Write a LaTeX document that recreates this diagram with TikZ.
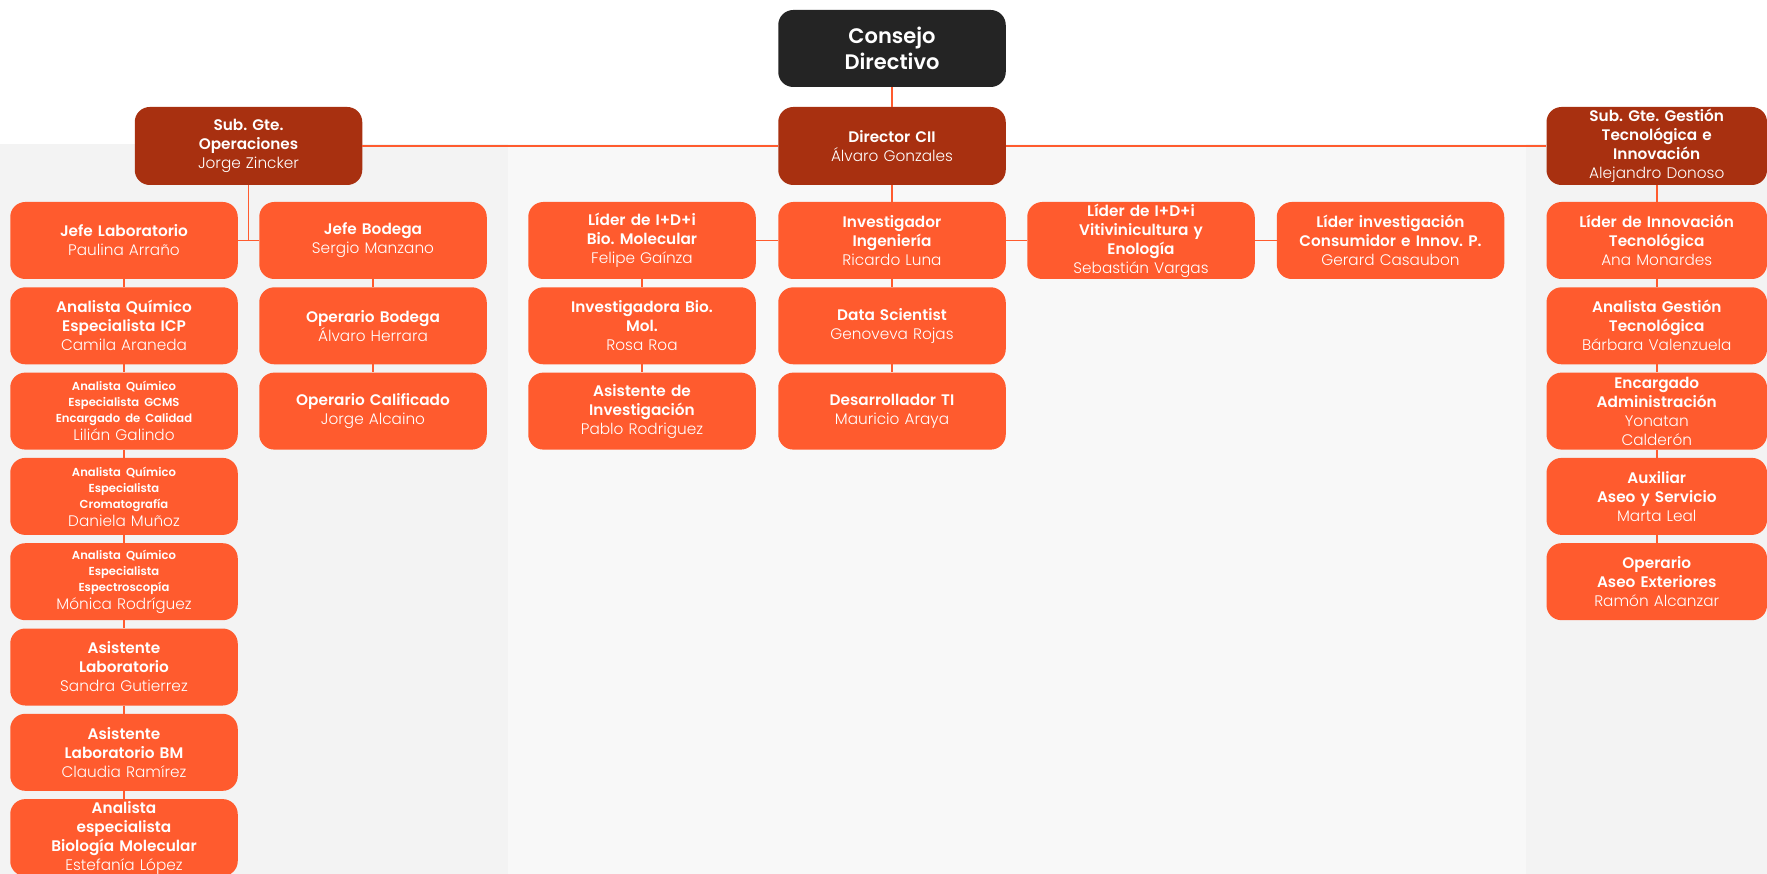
\documentclass[tikz,border=0pt]{standalone}
\usepackage{fontspec}
\setmainfont{Poppins Light}[BoldFont={Poppins SemiBold}]
\frenchspacing
\definecolor{org}{HTML}{FF5B2E}
\definecolor{rust}{HTML}{A83010}
\definecolor{blk}{HTML}{242424}
\definecolor{pnlA}{HTML}{F3F3F3}
\definecolor{pnlB}{HTML}{F8F8F8}
\definecolor{lin}{HTML}{FF5B2E}
\tikzset{
 bx/.style={rounded corners=15pt, minimum width=227.5pt, minimum height=77pt, inner sep=0pt, text width=227.5pt, align=center, text=white, font=\fontsize{15.3}{19}\selectfont\frenchspacing},
 ob/.style={bx, fill=org},
 rb/.style={bx, fill=rust, minimum height=78pt},
 kb/.style={bx, fill=blk, font=\fontsize{21}{26}\selectfont\bfseries},
 sm/.style={font=\fontsize{15.3}{16}\selectfont\frenchspacing},
 gw/.style={minimum width=220.5pt, text width=220.5pt},
 cn/.style={draw=lin, line width=1.6pt},
}
\newcommand\smt[1]{{\fontsize{11.6}{16}\selectfont\bfseries #1}}
\begin{document}
\begin{tikzpicture}[x=1pt,y=-1pt]
\useasboundingbox (0,0) rectangle (1767,874);
\clip (0,0) rectangle (1767,874);
\fill[white] (0,0) rectangle (1767,874);
\fill[pnlA] (0,144) rectangle (508,874);
\fill[pnlB] (508,144) rectangle (1526,874);
\fill[pnlA] (1526,144) rectangle (1767,874);
% top
\node[kb] (cons) at (892,48.5) {Consejo\\Directivo};
\node[rb] (dir) at (892,146) {\textbf{Director CII}\\Álvaro Gonzales};
\node[rb] (subop) at (248.5,146) {\textbf{Sub. Gte.}\\\textbf{Operaciones}\\Jorge Zincker};
\node[rb,gw] (subgt) at (1656.75,146) {\textbf{Sub. Gte. Gestión}\\\textbf{Tecnológica e}\\\textbf{Innovación}\\Alejandro Donoso};
% column A
\node[ob] (a1) at (124,240.5) {\textbf{Jefe Laboratorio}\\Paulina Arraño};
\node[ob] (a2) at (124,325.8) {\textbf{Analista Químico}\\\textbf{Especialista ICP}\\Camila Araneda};
\node[ob,sm] (a3) at (124,411.1) {\smt{Analista Químico}\\\smt{Especialista GCMS}\\\smt{Encargado de Calidad}\\[2pt]Lilián Galindo};
\node[ob,sm] (a4) at (124,496.4) {\smt{Analista Químico}\\\smt{Especialista}\\\smt{Cromatografía}\\[2pt]Daniela Muñoz};
\node[ob,sm] (a5) at (124,581.7) {\smt{Analista Químico}\\\smt{Especialista}\\\smt{Espectroscopía}\\[2pt]Mónica Rodríguez};
\node[ob] (a6) at (124,667) {\textbf{Asistente}\\\textbf{Laboratorio}\\Sandra Gutierrez};
\node[ob] (a7) at (124,752.3) {\textbf{Asistente}\\\textbf{Laboratorio BM}\\Claudia Ramírez};
\node[ob] (a8) at (124,837.6) {\textbf{Analista}\\\textbf{especialista}\\\textbf{Biología Molecular}\\Estefanía López};
% column B
\node[ob] (b1) at (373,240.5) {\textbf{Jefe Bodega}\\Sergio Manzano};
\node[ob] (b2) at (373,325.8) {\textbf{Operario Bodega}\\Álvaro Herrara};
\node[ob] (b3) at (373,411.1) {\textbf{Operario Calificado}\\Jorge Alcaino};
% column C
\node[ob] (c1) at (642,240.5) {\textbf{Líder de I+D+i}\\\textbf{Bio. Molecular}\\Felipe Gaínza};
\node[ob] (c2) at (642,325.8) {\textbf{Investigadora Bio.}\\\textbf{Mol.}\\Rosa Roa};
\node[ob] (c3) at (642,411.1) {\textbf{Asistente de}\\\textbf{Investigación}\\Pablo Rodriguez};
% column D
\node[ob] (d1) at (892,240.5) {\textbf{Investigador}\\\textbf{Ingeniería}\\Ricardo Luna};
\node[ob] (d2) at (892,325.8) {\textbf{Data Scientist}\\Genoveva Rojas};
\node[ob] (d3) at (892,411.1) {\textbf{Desarrollador TI}\\Mauricio Araya};
% columns E, F
\node[ob] (e1) at (1141,240.5) {\textbf{Líder de I+D+i}\\\textbf{Vitivinicultura y}\\\textbf{Enología}\\Sebastián Vargas};
\node[ob] (f1) at (1390.5,240.5) {\textbf{Líder investigación}\\\textbf{Consumidor e Innov. P.}\\Gerard Casaubon};
% column G
\node[ob,gw] (g1) at (1656.75,240.5) {\textbf{Líder de Innovación}\\\textbf{Tecnológica}\\Ana Monardes};
\node[ob,gw] (g2) at (1656.75,325.8) {\textbf{Analista Gestión}\\\textbf{Tecnológica}\\Bárbara Valenzuela};
\node[ob,gw] (g3) at (1656.75,411.1) {\textbf{Encargado}\\\textbf{Administración}\\Yonatan\\Calderón};
\node[ob,gw] (g4) at (1656.75,496.4) {\textbf{Auxiliar}\\\textbf{Aseo y Servicio}\\Marta Leal};
\node[ob,gw] (g5) at (1656.75,581.7) {\textbf{Operario}\\\textbf{Aseo Exteriores}\\Ramón Alcanzar};
% connectors
\path[cn] (cons.south) -- (dir.north);
\path[cn] (subop.east) -- (dir.west);
\path[cn] (dir.east) -- (subgt.west);
\path[cn] (dir.south) -- (d1.north);
\path[cn] (subop.south) -- (subop.south |- a1.east);
\path[cn] (a1.east) -- (b1.west);
\path[cn] (a1.south) -- (a2.north);
\path[cn] (a2.south) -- (a3.north);
\path[cn] (a3.south) -- (a4.north);
\path[cn] (a4.south) -- (a5.north);
\path[cn] (a5.south) -- (a6.north);
\path[cn] (a6.south) -- (a7.north);
\path[cn] (a7.south) -- (a8.north);
\path[cn] (b1.south) -- (b2.north);
\path[cn] (b2.south) -- (b3.north);
\path[cn] (c1.east) -- (d1.west);
\path[cn] (d1.east) -- (e1.west);
\path[cn] (e1.east) -- (f1.west);
\path[cn] (c1.south) -- (c2.north);
\path[cn] (c2.south) -- (c3.north);
\path[cn] (d1.south) -- (d2.north);
\path[cn] (d2.south) -- (d3.north);
\path[cn] (subgt.south) -- (g1.north);
\path[cn] (g1.south) -- (g2.north);
\path[cn] (g2.south) -- (g3.north);
\path[cn] (g3.south) -- (g4.north);
\path[cn] (g4.south) -- (g5.north);
\end{tikzpicture}
\end{document}
